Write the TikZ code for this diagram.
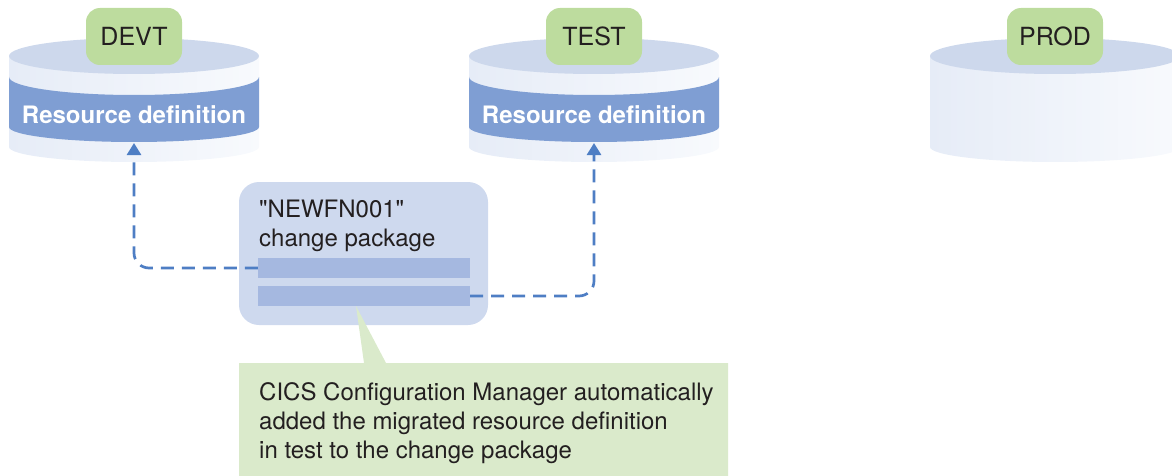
\documentclass[tikz,border=0pt]{standalone}
\usepackage{fontspec}
\setmainfont{TeX Gyre Heros}[Ligatures=TeXOff]
\usetikzlibrary{arrows.meta}
\definecolor{topc}{HTML}{CDD8EC}
\definecolor{sideL}{HTML}{E6ECF7}
\definecolor{sideR}{HTML}{F8FAFD}
\definecolor{bandc}{HTML}{7F9ED3}
\definecolor{tagc}{HTML}{BDDC9E}
\definecolor{pkgc}{HTML}{CED9EE}
\definecolor{barc}{HTML}{A5B8E0}
\definecolor{connc}{HTML}{4E7EC4}
\definecolor{notec}{HTML}{DAEACB}
\definecolor{txt}{HTML}{231F20}
\newcommand\drawcylbody[1]{%
  \shade[left color=sideL,right color=sideR] (#1-125,56) -- (#1-125,147)
    arc[start angle=180,end angle=0,x radius=125,y radius=15] -- (#1+125,56) -- cycle;}
\newcommand\drawcylband[1]{%
  \fill[bandc] (#1-125,77) -- (#1-125,127)
    arc[start angle=180,end angle=0,x radius=125,y radius=15] -- (#1+125,77)
    arc[start angle=0,end angle=180,x radius=125,y radius=18] -- cycle;}
\newcommand\drawcyltop[1]{%
  \fill[topc] (#1,56) ellipse[x radius=125,y radius=18];}
\begin{document}
\begin{tikzpicture}[x=1pt,y=-1pt,
  tag/.style={fill=tagc,rounded corners=14pt,minimum width=96pt,minimum height=57pt,
    inner sep=0pt,text=txt,font=\fontsize{25}{29}\selectfont},
  bandtext/.style={text=white,inner sep=0pt,font=\fontsize{24}{28}\selectfont\bfseries},
  pkgbox/.style={fill=pkgc,rounded corners=20pt,inner sep=0pt},
  bar/.style={fill=barc,minimum width=212pt,minimum height=20pt,inner sep=0pt},
  conn/.style={draw=connc,line width=2.7pt,dash pattern=on 13pt off 8pt,
    rounded corners=15pt,-{Triangle[width=14pt,length=12pt]}},
  body/.style={text=txt,inner sep=0pt,align=left,font=\fontsize{24}{28.7}\selectfont}]
\useasboundingbox (0,0) rectangle (1172,476);
% cylinders
\drawcylbody{134}\drawcylband{134}\drawcyltop{134}
\drawcylbody{594}\drawcylband{594}\drawcyltop{594}
\drawcylbody{1055}\drawcyltop{1055}
\node[bandtext] (devtres) at (134,114.5) {Resource definition};
\node[bandtext] (testres) at (594,114.5) {Resource definition};
\node[tag] (devt) at (134,36.5) {DEVT};
\node[tag] (test) at (594,36.5) {TEST};
\node[tag] (prod) at (1055,36.5) {PROD};
\coordinate (devtin) at (134,143);
\coordinate (testin) at (594,143);
% change package
\node[pkgbox,minimum width=249pt,minimum height=143pt] (pkg) at (363.5,253.5) {};
\node[body,anchor=base west] (pkgtxt) at (259,246) {"NEWFN001"\\change package};
% callout
\fill[notec] (239,363) -- (364,363) -- (356,306) -- (386,363) -- (728,363)
  -- (728,480) -- (239,480) -- cycle;
\node[bar] (bar1) at (364,268) {};
\node[bar] (bar2) at (364,296) {};
\node[body,anchor=base west] (note) at (259,458)
  {CICS Configuration Manager automatically\\added the migrated resource definition\\in test to the change package};
% connectors
\draw[conn] (bar1.west) -| (devtin);
\draw[conn] (bar2.east) -| (testin);
\end{tikzpicture}
\end{document}
